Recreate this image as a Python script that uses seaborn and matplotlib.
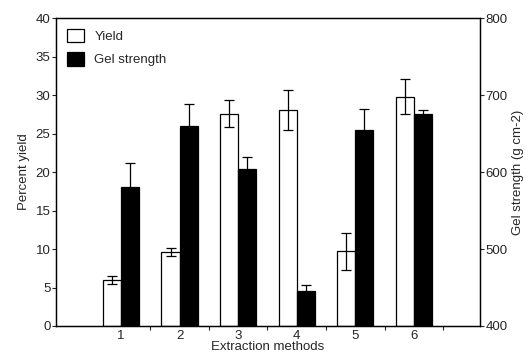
import numpy as np
import pandas as pd
import matplotlib
matplotlib.use("Agg")
import matplotlib.pyplot as plt
from matplotlib.patches import Patch
import seaborn as sns

# -----------------------------
# Data
# -----------------------------
methods = ["1", "2", "3", "4", "5", "6"]
yield_pct = [6.0, 9.6, 27.6, 28.1, 9.7, 29.8]
yield_err = [0.5, 0.5, 1.7, 2.6, 2.4, 2.3]
gel_strength = [580, 660, 604, 445, 654, 676]
gel_err = [32, 28, 16, 8, 28, 5]

series = ["Yield", "Gel strength"]
colors = {"Yield": "white", "Gel strength": "black"}

df_yield = pd.DataFrame({"method": methods, "series": "Yield", "value": yield_pct})
df_gel = pd.DataFrame({"method": methods, "series": "Gel strength", "value": gel_strength})

sns.set_style("ticks")
plt.rcParams["font.family"] = ["Liberation Sans", "DejaVu Sans"]
plt.rcParams["font.size"] = 9.5

fig = plt.figure(figsize=(5.3, 3.55), dpi=100)
ax = fig.add_axes([0.1057, 0.0817, 0.8, 0.8673])
ax2 = ax.twinx()


def draw(axis, data, err):
    sns.barplot(data=data, x="method", y="value", hue="series",
                hue_order=series, order=methods, palette=colors,
                width=0.62, dodge=True, errorbar=None, legend=False,
                edgecolor="black", linewidth=0.9, ax=axis)
    bars = [p for p in axis.patches if np.isfinite(p.get_height()) and p.get_height() > 0]
    bars = sorted(bars, key=lambda p: p.get_x())
    xs = [p.get_x() + p.get_width() / 2 for p in bars]
    axis.errorbar(xs, data["value"], yerr=err, fmt="none", ecolor="black",
                  elinewidth=0.9, capsize=3.5, capthick=0.9, zorder=5)


draw(ax, df_yield, yield_err)
draw(ax2, df_gel, gel_err)

ax.set_ylim(0, 40)
ax.set_yticks(np.arange(0, 41, 5))
ax2.set_ylim(400, 800)
ax2.set_yticks(np.arange(400, 801, 100))
ax.set_xlim(-1.11, 6.13)

ax.set_xticks(range(len(methods)))
ax.set_xticklabels(methods)
ax.set_xticks(np.arange(0.5, 6.0, 1.0), minor=True)
ax.tick_params(axis="x", which="major", length=0, pad=3)
ax.tick_params(axis="x", which="minor", length=3, width=0.8, direction="out")
ax.tick_params(axis="y", length=3, width=0.8, direction="out", pad=1)
ax2.tick_params(axis="y", length=3, width=0.8, direction="out", pad=1)

for a in (ax, ax2):
    for s in a.spines.values():
        s.set_visible(True)
        s.set_linewidth(0.9)
        s.set_color("black")

ax.set_xlabel("Extraction methods", labelpad=-1)
ax.set_ylabel("Percent yield", labelpad=4)
ax2.set_ylabel("Gel strength (g cm-2)", labelpad=3)

handles = [Patch(facecolor=colors[s], edgecolor="black", linewidth=0.9, label=s) for s in series]
ax.legend(handles=handles, loc="upper left", frameon=False, handlelength=1.3,
          handleheight=1.2, handletextpad=0.8, labelspacing=0.7,
          borderaxespad=0.4, bbox_to_anchor=(0.0, 1.0))

fig.savefig("out.png", dpi=100)
